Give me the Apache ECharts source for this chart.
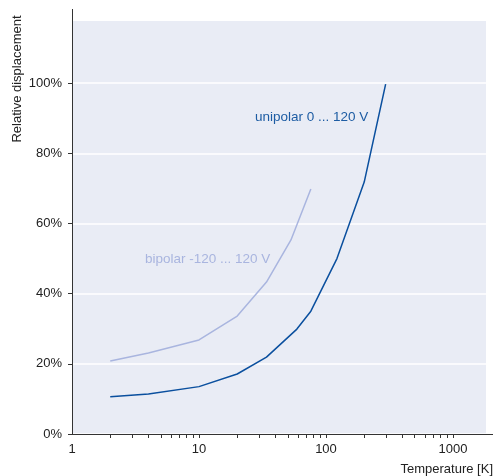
<!DOCTYPE html>
<html>
<head>
<meta charset="utf-8">
<script src="https://cdn.jsdelivr.net/npm/echarts@6/dist/echarts.min.js"></script>
<style>
html,body{margin:0;padding:0;background:#fff;}
#chart{width:493px;height:476px;}
</style>
</head>
<body>
<div id="chart"></div>
<script>
// 数据
var uniT = [2, 4, 10, 20, 34, 59, 76, 122, 200, 295];
var uniV = [10.6, 11.4, 13.5, 17.1, 21.9, 29.9, 35, 50, 71.8, 99.7];
var biT = [2, 4, 10, 20, 34, 53, 76];
var biV = [20.8, 23.1, 26.8, 33.6, 43.3, 55.3, 69.8];
var xLabels = [1, 10, 100, 1000];
var xTicks = [2, 3, 4, 5, 6, 7, 8, 9, 10, 20, 30, 40, 50, 60, 70, 80, 90, 100, 200, 300, 400, 500, 600, 700, 800, 900, 1000];
var yTicks = [0, 20, 40, 60, 80, 100];

function pairs(xs, ys){
    return xs.map(function(v,i){return [v, ys[i]];});
}

var font = 'Liberation Sans, Arial, sans-serif';
var chart = echarts.init(document.getElementById('chart'));
var option = {
    animation: false,
    grid: {
        left: 72,
        right: 7,
        top: 21,
        bottom: 42,
        show: true,
        backgroundColor: '#e9ecf5',
        borderWidth: 0
    },
    xAxis: {
        type: 'log',
        logBase: 10,
        min: 1,
        max: 1820,
        axisLine: {lineStyle: {color: '#333', width: 1}},
        axisTick: {show: true, length: 4, customValues: xTicks, lineStyle: {color: '#333'}},
        axisLabel: {
            customValues: xLabels, color: '#222', fontSize: 13, fontFamily: font, margin: 9,
            formatter: function(v){return String(Math.round(v));}
        },
        splitLine: {show: false},
        minorTick: {show: false}
    },
    yAxis: {
        type: 'value',
        min: 0,
        max: 117.7,
        axisLine: {show: true, lineStyle: {color: '#333', width: 1}},
        axisTick: {show: true, length: 4, customValues: yTicks, lineStyle: {color: '#333'}},
        axisLabel: {
            customValues: yTicks,
            color: '#222', fontSize: 13, fontFamily: font, margin: 10,
            formatter: function(v){return v + '%';}
        },
        splitLine: {show: true, lineStyle: {color: '#ffffff', width: 1.5}}
    },
    series: [
        {
            name: 'bipolar',
            type: 'line',
            data: pairs(biT, biV),
            symbol: 'none',
            lineStyle: {color: '#a9b5df', width: 1.5}
        },
        {
            name: 'unipolar',
            type: 'line',
            data: pairs(uniT, uniV),
            symbol: 'none',
            lineStyle: {color: '#0a4f9e', width: 1.5}
        }
    ],
    graphic: [
        {type: 'line', shape: {x1: 72.5, y1: 9, x2: 72.5, y2: 21}, style: {stroke: '#333', lineWidth: 1}},
        {type: 'line', shape: {x1: 486, y1: 434.5, x2: 493, y2: 434.5}, style: {stroke: '#333', lineWidth: 1}},
        {type: 'text', x: 255, y: 117, style: {text: 'unipolar 0 ... 120 V', fill: '#1d5ca3', font: '13.5px ' + font, verticalAlign: 'middle'}},
        {type: 'text', x: 145, y: 259, style: {text: 'bipolar -120 ... 120 V', fill: '#a9b5df', font: '13.5px ' + font, verticalAlign: 'middle'}},
        {type: 'text', x: 493, y: 469, style: {text: 'Temperature [K]', fill: '#222', font: '13px ' + font, align: 'right', verticalAlign: 'middle'}},
        {type: 'text', x: 17, y: 79, rotation: Math.PI / 2, style: {text: 'Relative displacement', fill: '#222', font: '13px ' + font, align: 'center', verticalAlign: 'middle'}}
    ]
};
chart.setOption(option);
</script>
</body>
</html>
